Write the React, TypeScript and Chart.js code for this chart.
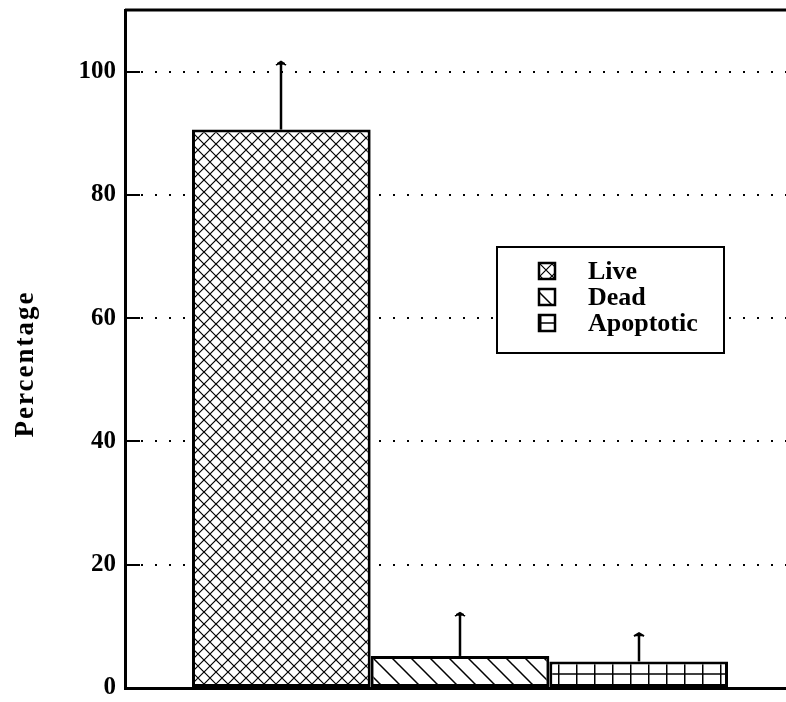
import { useEffect, useRef } from 'react';
import { Chart, registerables } from 'chart.js';

Chart.register(...registerables);

const categories = [''];
const seriesNames = ['Live', 'Dead', 'Apoptotic'];
const means = [90.6, 5.2, 4.3];
const upperErrors = [11.0, 7.0, 4.6];
const yTickValues = [0, 20, 40, 60, 80, 100];
const yTitle = 'Percentage';

const SERIF = '"Liberation Serif", "DejaVu Serif", serif';

function makePattern(ctx: CanvasRenderingContext2D, kind: string): CanvasPattern {
  const c = document.createElement('canvas');
  let w = 12, h = 12;
  if (kind === 'diag') { w = 19; h = 19; }
  if (kind === 'grid') { w = 18; h = 27; }
  c.width = w; c.height = h;
  const g = c.getContext('2d')!;
  g.fillStyle = '#fff';
  g.fillRect(0, 0, w, h);
  g.strokeStyle = '#000';
  if (kind === 'cross') {
    g.lineWidth = 1.2;
    g.beginPath();
    g.moveTo(-1, -1); g.lineTo(w + 1, h + 1);
    g.moveTo(-1, h + 1); g.lineTo(w + 1, -1);
    g.stroke();
  } else if (kind === 'diag') {
    g.lineWidth = 1.5;
    g.beginPath();
    g.moveTo(-2, -2); g.lineTo(w + 2, h + 2);
    g.moveTo(-2, h - 2); g.lineTo(2, h + 2);
    g.moveTo(w - 2, -2); g.lineTo(w + 2, 2);
    g.stroke();
  } else {
    g.lineWidth = 1.5;
    g.beginPath();
    g.moveTo(0.75, 0); g.lineTo(0.75, h);
    g.moveTo(0, 26); g.lineTo(w, 26);
    g.stroke();
  }
  return ctx.createPattern(c, 'repeat')!;
}

export default function App() {
  const ref = useRef<HTMLCanvasElement>(null);

  useEffect(() => {
    const canvas = ref.current!;
    const ctx = canvas.getContext('2d')!;
    const patterns = [makePattern(ctx, 'cross'), makePattern(ctx, 'diag'), makePattern(ctx, 'grid')];

    const framePlugin = {
      id: 'frame',
      beforeDatasetsDraw(chart: any) {
        const { ctx, chartArea } = chart;
        const y = chart.scales.y;
        ctx.save();
        ctx.strokeStyle = '#000';
        ctx.lineWidth = 3;
        ctx.beginPath();
        ctx.moveTo(chartArea.left, chartArea.top);
        ctx.lineTo(chartArea.right, chartArea.top);
        ctx.stroke();
        ctx.lineWidth = 2;
        yTickValues.forEach((v) => {
          if (v === 0) return;
          const py = Math.round(y.getPixelForValue(v));
          ctx.beginPath();
          ctx.moveTo(chartArea.left, py);
          ctx.lineTo(chartArea.left + 15, py);
          ctx.stroke();
        });
        ctx.restore();
      },
      afterDatasetsDraw(chart: any) {
        const { ctx } = chart;
        const y = chart.scales.y;
        ctx.save();
        ctx.strokeStyle = '#000';
        chart.data.datasets.forEach((ds: any, i: number) => {
          const el = chart.getDatasetMeta(i).data[0];
          const x = Math.round(el.x);
          const top = y.getPixelForValue(ds.data[0] + upperErrors[i]);
          ctx.lineWidth = 2.5;
          ctx.beginPath();
          ctx.moveTo(x, el.y);
          ctx.lineTo(x, top);
          ctx.stroke();
          ctx.lineWidth = 2;
          ctx.beginPath();
          ctx.moveTo(x - 5, top + 3);
          ctx.lineTo(x, top);
          ctx.lineTo(x + 5, top + 3);
          ctx.moveTo(x - 4, top + 2);
          ctx.lineTo(x + 4, top + 2);
          ctx.stroke();
        });

        // legend box
        const bx = 497, by = 247, bw = 227, bh = 106;
        ctx.fillStyle = '#fff';
        ctx.fillRect(bx, by, bw, bh);
        ctx.lineWidth = 2;
        ctx.strokeRect(bx, by, bw, bh);
        ctx.font = `bold 26px ${SERIF}`;
        ctx.textBaseline = 'middle';
        ctx.textAlign = 'left';
        chart.data.datasets.forEach((ds: any, i: number) => {
          const cy = 271 + i * 26;
          ctx.fillStyle = ds.backgroundColor;
          ctx.fillRect(539, cy - 8, 16, 16);
          ctx.lineWidth = 2.5;
          ctx.strokeRect(539, cy - 8, 16, 16);
          ctx.fillStyle = '#000';
          ctx.fillText(ds.label, 588, cy + 1);
        });

        // y title
        ctx.save();
        ctx.translate(26, 364);
        ctx.rotate(-Math.PI / 2);
        ctx.font = `bold 27px ${SERIF}`;
        (ctx as any).letterSpacing = '2px';
        ctx.textAlign = 'center';
        ctx.textBaseline = 'middle';
        ctx.fillStyle = '#000';
        ctx.fillText(yTitle, 0, 0);
        ctx.restore();
        ctx.restore();
      },
    };

    const chart = new Chart(ctx, {
      type: 'bar',
      data: {
        labels: categories,
        datasets: seriesNames.map((name, i) => ({
          label: name,
          data: [means[i]],
          backgroundColor: patterns[i] as any,
          borderColor: '#000',
          borderWidth: 3,
          borderSkipped: false,
          categoryPercentage: 0.8,
          barPercentage: 1.0,
        })),
      },
      options: {
        responsive: false,
        devicePixelRatio: 1,
        animation: false,
        layout: { padding: { left: 0, top: 10, right: 5, bottom: 14 } },
        plugins: { legend: { display: false }, tooltip: { enabled: false } },
        scales: {
          x: {
            type: 'category',
            grid: { display: false },
            ticks: { display: false },
            border: { display: true, color: '#000', width: 3 },
            afterFit: (s: any) => { s.height = 0; s.paddingLeft = 0; s.paddingRight = 0; },
          },
          y: {
            min: 0,
            max: 110,
            ticks: {
              stepSize: 20,
              color: '#000',
              padding: 9,
              font: { family: SERIF, size: 25, weight: 'bold' },
            },
            afterBuildTicks: (s: any) => {
              s.ticks = yTickValues.map((v) => ({ value: v }));
            },
            grid: {
              color: '#000',
              lineWidth: 2,
              drawTicks: false,
            },
            border: { display: true, color: '#000', width: 3, dash: [2, 12] },
            afterFit: (s: any) => { s.width = 125; s.paddingTop = 0; s.paddingBottom = 0; },
          },
        },
      },
      plugins: [framePlugin],
    });
    return () => chart.destroy();
  }, []);

  return (
    <div style={{ position: 'absolute', left: 0, top: 0, width: 786, height: 702, overflow: 'hidden', background: '#fff' }}>
      <canvas ref={ref} width={800} height={702} style={{ display: 'block', width: 800, height: 702 }} />
    </div>
  );
}
